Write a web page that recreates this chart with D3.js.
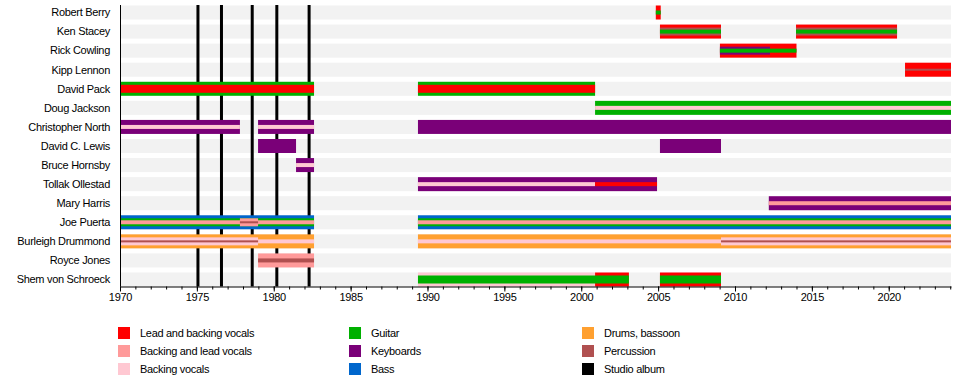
<!DOCTYPE html>
<html>
<head>
<meta charset="utf-8">
<script src="https://cdn.jsdelivr.net/npm/d3@7"></script>
<style>
body { margin: 0; background: #fff; }
text { font-family: "Liberation Sans", Arial, sans-serif; font-size: 11px; fill: #000; letter-spacing: -0.3px; }
</style>
</head>
<body>
<svg id="chart" width="960" height="385"></svg>
<script>
// band members, top to bottom
const members = ["Robert Berry", "Ken Stacey", "Rick Cowling", "Kipp Lennon", "David Pack",
  "Doug Jackson", "Christopher North", "David C. Lewis", "Bruce Hornsby", "Tollak Ollestad",
  "Mary Harris", "Joe Puerta", "Burleigh Drummond", "Royce Jones", "Shem von Schroeck"];

const roles = ["Lead and backing vocals", "Backing and lead vocals", "Backing vocals",
  "Guitar", "Keyboards", "Bass", "Drums, bassoon", "Percussion", "Studio album"];
const roleColors = ["#ff0000", "#ff9a9a", "#ffc8d2", "#00b000", "#7a0078", "#0066cc",
  "#ffa030", "#b05050", "#000000"];

const albums = [1975.07, 1976.6, 1978.6, 1980.2, 1982.3];
const yearTicks = [1970, 1975, 1980, 1985, 1990, 1995, 2000, 2005, 2010, 2015, 2020];
const startYear = 1970, endYear = 2024.05;

// [member, from, to, role, tier]  tier 0 = main bar, higher tiers = thinner inner lines
const spells = [
  ["Robert Berry", 2004.85, 2005.17, "Lead and backing vocals", 0],
  ["Robert Berry", 2004.85, 2005.17, "Guitar", 2],
  ["Ken Stacey", 2005.12, 2009.09, "Lead and backing vocals", 0],
  ["Ken Stacey", 2005.12, 2009.09, "Percussion", 1],
  ["Ken Stacey", 2005.12, 2009.09, "Guitar", 2],
  ["Ken Stacey", 2013.97, 2020.54, "Lead and backing vocals", 0],
  ["Ken Stacey", 2013.97, 2020.54, "Percussion", 1],
  ["Ken Stacey", 2013.97, 2020.54, "Guitar", 2],
  ["Rick Cowling", 2009.02, 2014.0, "Lead and backing vocals", 0],
  ["Rick Cowling", 2009.02, 2012.28, "Keyboards", 1],
  ["Rick Cowling", 2009.02, 2014.0, "Guitar", 2],
  ["Kipp Lennon", 2021.06, 2024.05, "Lead and backing vocals", 0],
  ["Kipp Lennon", 2021.06, 2024.05, "Percussion", 3],
  ["David Pack", 1970, 1982.62, "Guitar", 0],
  ["David Pack", 1970, 1982.62, "Lead and backing vocals", 1],
  ["David Pack", 1989.38, 2000.9, "Guitar", 0],
  ["David Pack", 1989.38, 2000.9, "Lead and backing vocals", 1],
  ["Doug Jackson", 2000.9, 2024.05, "Guitar", 0],
  ["Doug Jackson", 2000.9, 2024.05, "Backing vocals", 2],
  ["Christopher North", 1970, 1977.8, "Keyboards", 0],
  ["Christopher North", 1970, 1977.8, "Backing vocals", 2],
  ["Christopher North", 1978.98, 1982.62, "Keyboards", 0],
  ["Christopher North", 1978.98, 1982.62, "Backing vocals", 2],
  ["Christopher North", 1989.38, 2024.05, "Keyboards", 0],
  ["David C. Lewis", 1978.98, 1981.45, "Keyboards", 0],
  ["David C. Lewis", 2005.12, 2009.09, "Keyboards", 0],
  ["Bruce Hornsby", 1981.45, 1982.62, "Keyboards", 0],
  ["Bruce Hornsby", 1981.45, 1982.62, "Backing vocals", 2],
  ["Tollak Ollestad", 1989.38, 2004.93, "Keyboards", 0],
  ["Tollak Ollestad", 1989.38, 2000.9, "Backing vocals", 2],
  ["Tollak Ollestad", 2000.9, 2004.93, "Lead and backing vocals", 2],
  ["Mary Harris", 2012.2, 2024.05, "Keyboards", 0],
  ["Mary Harris", 2012.2, 2024.05, "Backing and lead vocals", 2],
  ["Joe Puerta", 1970, 1982.62, "Bass", 0],
  ["Joe Puerta", 1970, 1982.62, "Guitar", 1],
  ["Joe Puerta", 1970, 1982.62, "Backing and lead vocals", 2],
  ["Joe Puerta", 1977.8, 1978.98, "Backing and lead vocals", 1],
  ["Joe Puerta", 1977.8, 1978.98, "Percussion", 3],
  ["Joe Puerta", 1989.38, 2024.05, "Bass", 0],
  ["Joe Puerta", 1989.38, 2024.05, "Guitar", 1],
  ["Joe Puerta", 1989.38, 2024.05, "Backing and lead vocals", 2],
  ["Burleigh Drummond", 1970, 1982.62, "Drums, bassoon", 0],
  ["Burleigh Drummond", 1970, 1978.98, "Backing vocals", 1],
  ["Burleigh Drummond", 1970, 1978.98, "Percussion", 3],
  ["Burleigh Drummond", 1978.98, 1982.62, "Backing vocals", 2],
  ["Burleigh Drummond", 1989.38, 2024.05, "Drums, bassoon", 0],
  ["Burleigh Drummond", 1989.38, 2009.09, "Backing vocals", 2],
  ["Burleigh Drummond", 2009.09, 2024.05, "Backing vocals", 1],
  ["Burleigh Drummond", 2009.09, 2024.05, "Percussion", 3],
  ["Royce Jones", 1978.98, 1982.62, "Backing and lead vocals", 0],
  ["Royce Jones", 1978.98, 1982.62, "Percussion", 2],
  ["Shem von Schroeck", 1989.38, 2000.9, "Backing vocals", 0],
  ["Shem von Schroeck", 2000.9, 2003.1, "Lead and backing vocals", 0],
  ["Shem von Schroeck", 2005.12, 2009.09, "Lead and backing vocals", 0],
  ["Shem von Schroeck", 1989.38, 2003.1, "Guitar", 1],
  ["Shem von Schroeck", 2005.12, 2009.09, "Guitar", 1]
];

const tierHeight = [14, 8, 4, 2];
const color = d3.scaleOrdinal().domain(roles).range(roleColors);

const svg = d3.select("#chart");
const x = d3.scaleLinear().domain([startYear, endYear]).range([120, 951]);
const y = d3.scalePoint().domain(members).range([12.5, 279.5]);
const axisY = 286.5;

// light background rows
svg.append("g").selectAll("rect")
  .data(members)
  .enter().append("rect")
  .attr("x", x(startYear))
  .attr("y", d => y(d) - 7)
  .attr("width", x(endYear) - x(startYear))
  .attr("height", 14)
  .attr("fill", "#f2f2f2");

// studio albums
svg.append("g").selectAll("line")
  .data(albums)
  .enter().append("line")
  .attr("x1", d => x(d)).attr("x2", d => x(d))
  .attr("y1", 5).attr("y2", axisY)
  .attr("stroke", color("Studio album"))
  .attr("stroke-width", 3);

// member bars, main bar first, inner lines on top
const sorted = spells.slice().sort((a, b) => a[4] - b[4]);
svg.append("g").selectAll("rect")
  .data(sorted)
  .enter().append("rect")
  .attr("x", d => x(d[1]))
  .attr("width", d => x(d[2]) - x(d[1]))
  .attr("y", d => y(d[0]) - tierHeight[d[4]] / 2)
  .attr("height", d => tierHeight[d[4]])
  .attr("fill", d => color(d[3]));

// member names
svg.append("g").selectAll("text")
  .data(members)
  .enter().append("text")
  .attr("x", 110)
  .attr("y", d => y(d))
  .attr("dy", "0.35em")
  .attr("text-anchor", "end")
  .text(d => d);

// axes
svg.append("line")
  .attr("x1", 120.5).attr("x2", 120.5)
  .attr("y1", 5).attr("y2", axisY)
  .attr("stroke", "#000");

svg.append("g")
  .attr("transform", "translate(0," + axisY + ")")
  .call(d3.axisBottom(x).tickValues(d3.range(1970, 2025)).tickSize(3).tickSizeOuter(0).tickFormat(""))
  .call(g => g.select(".domain").remove());

const xAxis = svg.append("g")
  .attr("transform", "translate(0," + axisY + ")")
  .call(d3.axisBottom(x).tickValues(yearTicks).tickSize(5).tickSizeOuter(0).tickFormat(d3.format("d")));
xAxis.selectAll("text").attr("font-size", 11).attr("font-family", null).attr("dy", "0.6em");

// legend
const legendCols = [118, 349, 582];
const legendRows = [333, 351, 369];
const legend = svg.append("g").selectAll("g")
  .data(roles)
  .enter().append("g")
  .attr("transform", (d, i) => "translate(" + legendCols[Math.floor(i / 3)] + "," + legendRows[i % 3] + ")");
legend.append("rect")
  .attr("x", 0).attr("y", -6)
  .attr("width", 12).attr("height", 12)
  .attr("fill", d => color(d));
legend.append("text")
  .attr("x", 22)
  .attr("dy", "0.35em")
  .text(d => d);
</script>
</body>
</html>
